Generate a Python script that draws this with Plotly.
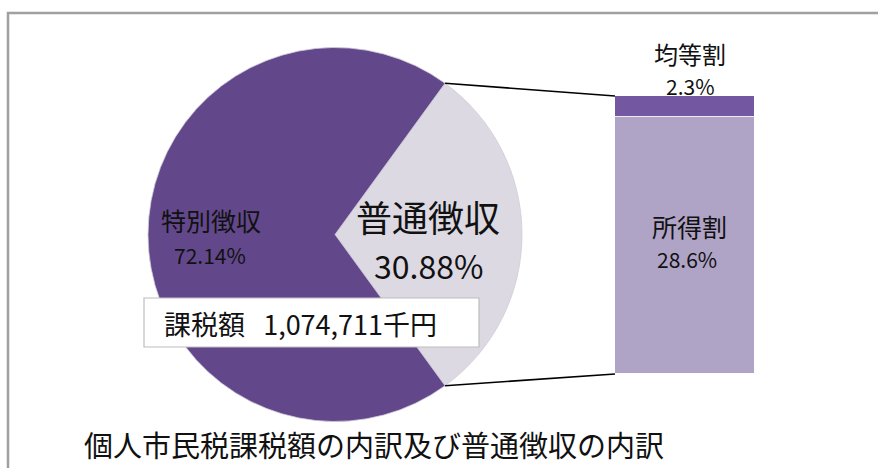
import math
import plotly.graph_objects as go

# ---- data ----
pie_labels = ["普通徴収", "特別徴収"]
pie_values = [30.88, 72.14]
bar_labels = ["所得割", "均等割"]
bar_values = [28.6, 2.3]
total_text = "課税額\u00a0\u00a0\u00a01,074,711千円"
title_text = "個人市民税課税額の内訳及び普通徴収の内訳"

W, H = 878, 468
FONT = "Noto Sans CJK JP, Noto Sans, sans-serif"

def px(x, y):
    return x / W, 1 - y / H

# pie geometry (pixels)
cx, cy, r = 335, 234.5, 187
frac = pie_values[0] / sum(pie_values)
rotation = 90 - frac * 360 / 2

# bar geometry (pixels)
bx0, bx1, by_top, by_bot = 615, 755, 96, 374

fig = go.Figure()

fig.add_trace(go.Pie(
    labels=pie_labels, values=pie_values, sort=False, direction="clockwise",
    rotation=rotation, textinfo="none", hoverinfo="label+value",
    marker=dict(colors=["#dcd9e3", "#62488b"], line=dict(color="#cfcbd8", width=0.8)),
    domain=dict(x=[(cx - r) / W, (cx + r) / W], y=[(H - cy - r) / H, (H - cy + r) / H]),
    showlegend=False,
))

bar_colors = ["#afa3c6", "#7357a1"]
for lab, val, col in zip(bar_labels, bar_values, bar_colors):
    fig.add_trace(go.Bar(
        x=["普通徴収"], y=[val], name=lab, width=1,
        marker=dict(color=col, line=dict(color="rgba(255,255,255,0.55)", width=1.2)),
        xaxis="x2", yaxis="y2", showlegend=False,
    ))

# connector lines from the pie slice edges to the bar corners
shapes = []
for ang, by in ((rotation, by_top), (rotation + frac * 360, by_bot)):
    t = math.radians(ang)
    ex, ey = cx + r * math.sin(t), cy - r * math.cos(t)
    x0p, y0p = px(ex, ey)
    x1p, y1p = px(bx0, by)
    shapes.append(dict(type="line", xref="paper", yref="paper", x0=x0p, y0=y0p,
                       x1=x1p, y1=y1p, line=dict(color="black", width=1.6)))

# frame (only top and left visible)
fx0, fy0 = px(8, 13)
shapes.append(dict(type="rect", xref="paper", yref="paper", x0=fx0, y0=-0.05, x1=1.05, y1=fy0,
                   line=dict(color="#a0a0a0", width=2.5), layer="below"))

# total box
b0 = px(144, 347)
b1 = px(479, 298)
shapes.append(dict(type="rect", xref="paper", yref="paper", x0=b0[0], y0=b0[1], x1=b1[0], y1=b1[1],
                   fillcolor="white", line=dict(color="#bdbdbd", width=1.2), layer="above"))

annotations = []
def ann(text, x, y, size, xanchor="center"):
    xp, yp = px(x, y)
    annotations.append(dict(text=text, x=xp, y=yp, xref="paper", yref="paper",
                            xanchor=xanchor, yanchor="middle", showarrow=False,
                            font=dict(family=FONT, size=size, color="#111111")))

ann(pie_labels[1], 211, 220, 25)
ann(f"{pie_values[1]:.2f}%", 210, 255, 21)
ann(pie_labels[0], 428, 216, 36)
ann(f"{pie_values[0]:.2f}%", 428, 265, 32)
ann(bar_labels[1], 690, 53, 24)
ann(f"{bar_values[1]}%", 690, 86, 21)
ann(bar_labels[0], 689, 226, 25)
ann(f"{bar_values[0]}%", 687, 259, 21)
ann(total_text, 162, 323, 27, xanchor="left")
ann(title_text, 82, 444, 29, xanchor="left")

fig.update_layout(
    width=W, height=H, margin=dict(l=0, r=0, t=0, b=0),
    paper_bgcolor="white", plot_bgcolor="white",
    barmode="stack", bargap=0,
    xaxis2=dict(domain=[bx0 / W, bx1 / W], range=[-0.5, 0.5], visible=False, anchor="y2"),
    yaxis2=dict(domain=[(H - by_bot) / H, (H - by_top) / H], range=[0, sum(bar_values)],
                visible=False, anchor="x2"),
    shapes=shapes, annotations=annotations,
)

fig.write_html("out.html", config={"displayModeBar": False},
               post_script="document.body.style.margin='0px';document.body.style.overflow='hidden';")
